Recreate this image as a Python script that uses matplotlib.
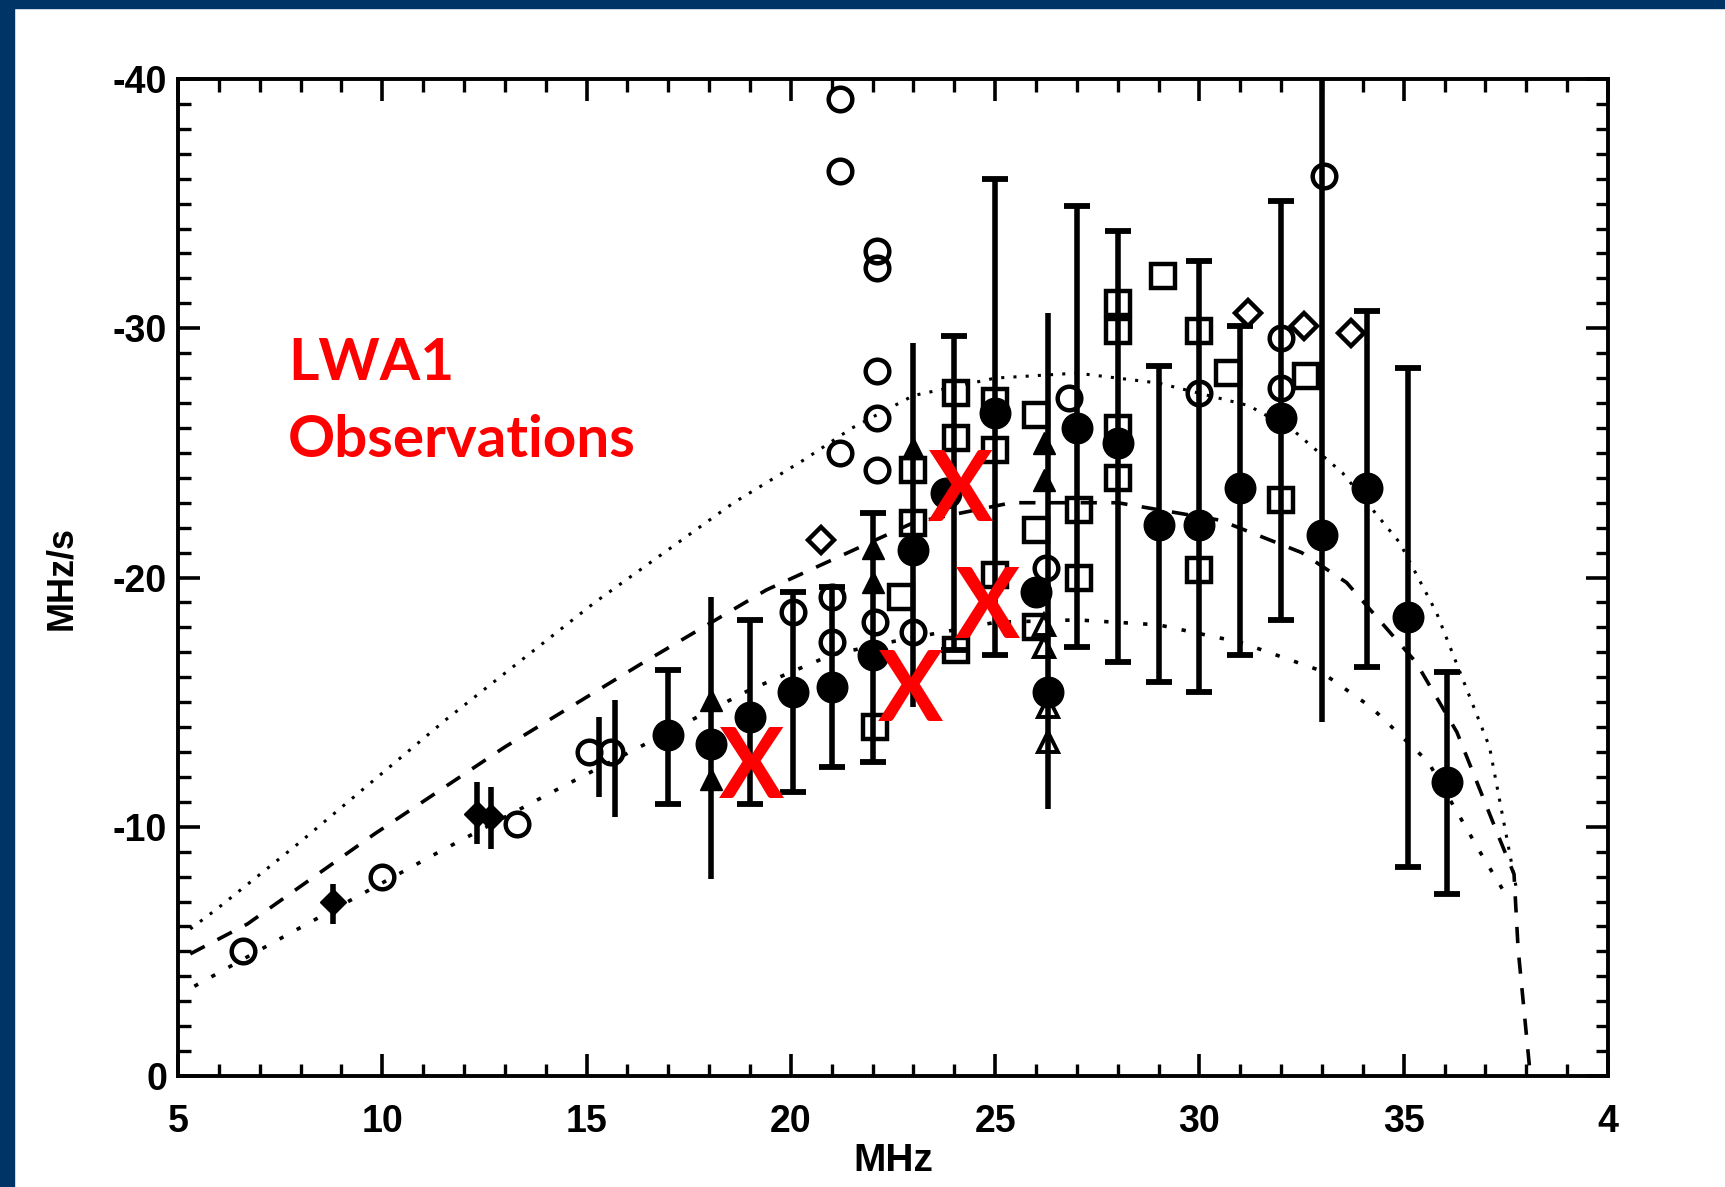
import matplotlib
matplotlib.use('Agg')
import matplotlib.pyplot as plt
from matplotlib.patches import Rectangle
from matplotlib.ticker import MultipleLocator, FixedLocator

# ---------------- data ----------------
# model curves
curveA_x = [5.3, 5.95, 8.0, 11.56, 15.2, 18.6, 20.3, 21.5, 23.0, 25.0, 27.0, 29.0, 31.2, 32.3, 33.5, 34.9, 35.8, 37.1, 37.76]
curveA_y = [-5.9, -6.7, -9.4, -14.3, -19.0, -23.0, -24.7, -26.0, -27.3, -28.0, -28.2, -27.8, -26.9, -25.9, -24.2, -21.4, -18.6, -13.2, -7.5]

curveB_x = [5.3, 6.7, 9.8, 13.0, 16.3, 19.4, 21.0, 23.0, 25.4, 28.0, 30.5, 32.5, 33.6, 35.3, 36.3, 37.35, 37.7, 37.8, 38.0, 38.1]
curveB_y = [-4.9, -6.1, -9.7, -13.2, -16.5, -19.5, -20.7, -22.2, -23.0, -23.0, -22.3, -21.0, -19.8, -16.6, -13.8, -9.5, -8.1, -5.1, -1.7, 0.0]

curveC_x = [5.4, 7.6, 11.4, 14.4, 16.3, 19.0, 21.0, 22.7, 25.0, 27.0, 29.0, 31.0, 32.9, 34.2, 35.6, 36.9, 37.6]
curveC_y = [-3.6, -5.6, -9.0, -11.6, -13.2, -15.5, -16.9, -17.5, -18.2, -18.3, -18.1, -17.4, -16.3, -14.8, -12.6, -8.9, -7.0]

# error bars: frequency, upper end, lower end
bar_x   = [8.8, 12.33, 12.66, 15.3, 15.7, 17.0, 18.05, 19.0, 20.05, 21.0, 22.0, 23.0, 24.0, 25.0, 26.3, 27.0, 28.0, 29.0, 30.0, 31.0, 32.0, 33.0, 34.1, 35.1, 36.05]
bar_top = [-7.7, -11.8, -11.6, -14.4, -15.1, -16.3, -19.2, -18.3, -19.4, -19.6, -22.6, -29.4, -29.7, -36.0, -30.6, -34.9, -33.9, -28.5, -32.7, -30.1, -35.1, -40.0, -30.7, -28.4, -16.2]
bar_bot = [-6.1, -9.3, -9.1, -11.2, -10.4, -10.9, -7.9, -10.9, -11.4, -12.4, -12.6, -14.8, -17.1, -16.9, -10.7, -17.2, -16.6, -15.8, -15.4, -16.9, -18.3, -14.2, -16.4, -8.4, -7.3]
bar_cap = [0, 0, 0, 0, 0, 1, 0, 1, 1, 1, 1, 0, 1, 1, 0, 1, 1, 1, 1, 1, 1, 0, 1, 1, 1]

# filled circles
fc_x = [17.0, 18.05, 19.0, 20.05, 21.0, 22.0, 23.0, 23.8, 25.0, 26.0, 26.3, 27.0, 28.0, 29.0, 30.0, 31.0, 32.0, 33.0, 34.1, 35.1, 36.05]
fc_y = [-13.7, -13.3, -14.4, -15.4, -15.6, -16.9, -21.1, -23.4, -26.6, -19.4, -15.4, -26.0, -25.4, -22.1, -22.1, -23.6, -26.4, -21.7, -23.6, -18.4, -11.8]

# filled diamonds
fd_x = [8.8, 12.33, 12.66]
fd_y = [-7.0, -10.5, -10.4]

# open circles
oc_x = [6.6, 10.0, 13.3, 15.05, 15.6, 20.05, 21.0, 21.0, 21.2, 21.2, 21.2, 22.1, 22.1, 22.1, 22.1, 22.1, 22.05, 23.0, 26.8, 26.25, 30.0, 32.0, 32.0, 33.05]
oc_y = [-5.0, -8.0, -10.1, -13.0, -13.0, -18.6, -17.4, -19.2, -25.0, -36.3, -39.2, -33.1, -32.4, -28.3, -26.4, -24.3, -18.2, -17.8, -27.2, -20.4, -27.4, -29.6, -27.6, -36.1]

# open diamonds
od_x = [20.75, 31.2, 32.55, 33.7]
od_y = [-21.5, -30.6, -30.1, -29.8]

# open squares
os_x = [22.05, 22.7, 23.0, 23.0, 24.05, 24.05, 24.05, 25.0, 25.0, 25.0, 26.0, 26.0, 26.0, 27.05, 27.05, 28.0, 28.0, 28.0, 28.0, 29.1, 30.0, 30.0, 30.7, 32.0, 32.6]
os_y = [-14.0, -19.2, -24.3, -22.2, -27.4, -25.6, -17.1, -27.1, -25.1, -20.1, -26.5, -21.9, -18.0, -22.7, -20.0, -31.0, -29.9, -26.0, -24.0, -32.1, -29.9, -20.3, -28.2, -23.1, -28.1]

# filled triangles
tf_x = [18.05, 18.05, 22.0, 22.0, 23.0, 26.2, 26.2]
tf_y = [-15.1, -11.9, -21.2, -19.8, -25.2, -25.4, -23.9]

# open triangles
to_x = [26.2, 26.2, 26.3, 26.3]
to_y = [-18.1, -17.2, -14.8, -13.4]

# red X annotations (LWA1 observations)
lwa_x = [19.03, 22.93, 24.14, 24.82]
lwa_y = [-12.3, -15.4, -23.4, -18.7]

xtick_vals = [5, 10, 15, 20, 25, 30, 35, 40]
xtick_labels = ['5', '10', '15', '20', '25', '30', '35', '4']
ytick_vals = [0, -10, -20, -30, -40]
ytick_labels = ['0', '-10', '-20', '-30', '-40']

# ---------------- figure ----------------
W, H = 1725, 1187
fig = plt.figure(figsize=(W / 100, H / 100), dpi=100)
fig.patch.set_facecolor('white')
navy = '#003366'
fig.patches.append(Rectangle((0, 0), 14 / W, 1, transform=fig.transFigure, color=navy, zorder=0))
fig.patches.append(Rectangle((0, 1 - 8 / H), 1, 8 / H, transform=fig.transFigure, color=navy, zorder=0))

ax = fig.add_axes([178 / W, 1 - 1076 / H, (1608 - 178) / W, (1076 - 79) / H])
ax.set_xlim(5, 40)
ax.set_ylim(0, -40)

# curves
ax.plot(curveA_x, curveA_y, color='black', lw=2.2, linestyle=(0, (1, 3.0)), zorder=2)
ax.plot(curveB_x, curveB_y, color='black', lw=2.6, linestyle=(0, (4.5, 4)), zorder=2)
ax.plot(curveC_x, curveC_y, color='black', lw=2.6, linestyle=(0, (1.2, 4.2)), zorder=2)

# error bars
ax.vlines(bar_x, bar_top, bar_bot, color='black', lw=4.0, zorder=3)
cx = [x for x, c in zip(bar_x, bar_cap) if c]
ct = [t for t, c in zip(bar_top, bar_cap) if c]
cb = [b for b, c in zip(bar_bot, bar_cap) if c]
ax.plot(cx, ct, linestyle='none', marker='_', ms=19, mew=4.2, color='black', zorder=3)
ax.plot(cx, cb, linestyle='none', marker='_', ms=19, mew=4.2, color='black', zorder=3)

# markers
ax.plot(os_x, os_y, linestyle='none', marker='s', ms=17, mfc='none', mec='black', mew=3.2, zorder=4)
ax.plot(oc_x, oc_y, linestyle='none', marker='o', ms=17, mfc='none', mec='black', mew=3.2, zorder=4)
ax.plot(od_x, od_y, linestyle='none', marker='D', ms=13, mfc='none', mec='black', mew=3.2, zorder=4)
ax.plot(to_x, to_y, linestyle='none', marker='^', ms=15, mfc='none', mec='black', mew=2.8, zorder=4)
ax.plot(tf_x, tf_y, linestyle='none', marker='^', ms=16, mfc='black', mec='black', zorder=5)
ax.plot(fd_x, fd_y, linestyle='none', marker='D', ms=13, mfc='black', mec='black', zorder=5)
ax.plot(fc_x, fc_y, linestyle='none', marker='o', ms=22, mfc='black', mec='black', zorder=5)

# red X marks
for x, y in zip(lwa_x, lwa_y):
    ax.text(x, y, 'X', color='#ff0000', fontsize=70, fontweight='bold',
            family=['Lato', 'DejaVu Sans'], ha='center', va='center', zorder=7)

# LWA1 label
fig.text(288 / W, 1 - 380 / H, 'LWA1', color='#ff0000', fontsize=42, fontweight='bold',
         family=['Lato', 'DejaVu Sans'], va='baseline', ha='left')
fig.text(288 / W, 1 - 457 / H, 'Observations', color='#ff0000', fontsize=42, fontweight='bold',
         family=['Lato', 'DejaVu Sans'], va='baseline', ha='left')

# axes styling
for s in ax.spines.values():
    s.set_linewidth(2.8)
    s.set_color('black')

ax.xaxis.set_major_locator(FixedLocator(xtick_vals))
ax.xaxis.set_minor_locator(MultipleLocator(1))
ax.yaxis.set_major_locator(FixedLocator(ytick_vals))
ax.yaxis.set_minor_locator(MultipleLocator(1))
ax.set_xticklabels(xtick_labels)
ax.set_yticklabels(ytick_labels)
ax.tick_params(which='both', direction='in', top=True, right=True, color='black')
ax.tick_params(which='major', length=16, width=2.6)
ax.tick_params(which='minor', length=9, width=2.4)
ax.tick_params(axis='x', which='major', pad=20)
ax.tick_params(axis='y', which='major', pad=8)

tick_font = ['Liberation Sans Narrow', 'Liberation Sans', 'DejaVu Sans']
for lab in ax.get_xticklabels() + ax.get_yticklabels():
    lab.set_family(tick_font)
    lab.set_fontsize(27)
    lab.set_fontweight('bold')

ax.set_xlabel('MHz', fontsize=28, fontweight='bold', family=tick_font, labelpad=2)
ax.set_ylabel('MHz/s', fontsize=26, fontweight='bold', family=tick_font, labelpad=24)

fig.savefig('out.png', dpi=100, facecolor='white')
